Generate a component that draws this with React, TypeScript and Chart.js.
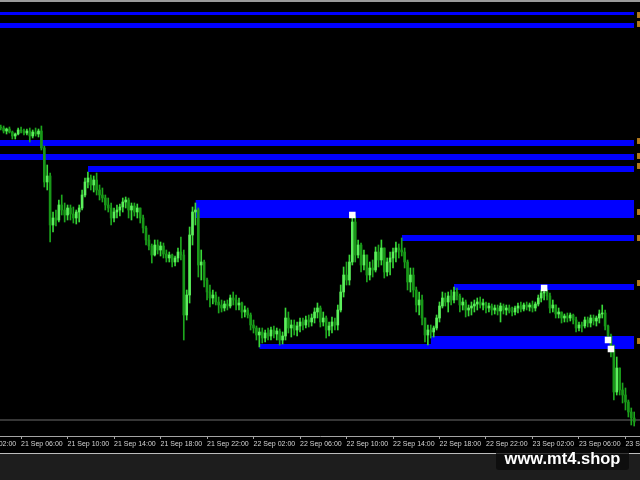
import React, { useEffect, useRef } from "react";
import { Chart, registerables } from "chart.js";

Chart.register(...registerables);

// Time axis: index of 15-minute bar counted from 21 Sep 00:00
const START_BAR = 17; // first candle: 21 Sep 04:15
const X_MIN = 16.75;
const X_MAX = 237;
// Price axis (points)
const Y_MIN = 564;
const Y_MAX = 998;

const OPEN = [
  873, 872, 869, 871, 868, 864, 866, 870, 869, 867,
  869, 864, 868, 866, 869, 852, 818, 824, 775, 782,
  780, 795, 790, 785, 792, 786, 782, 788, 792, 805,
  818, 822, 815, 820, 810, 805, 802, 795, 792, 782,
  788, 790, 793, 798, 800, 790, 794, 788, 792, 782,
  772, 760, 754, 745, 755, 750, 754, 746, 742, 745,
  738, 742, 748, 745, 685, 705, 765, 788, 790, 735,
  738, 720, 708, 702, 705, 698, 695, 692, 696, 694,
  702, 700, 695, 697, 688, 690, 685, 675, 672, 665,
  668, 662, 667, 664, 670, 666, 669, 660, 664, 682,
  672, 675, 670, 674, 678, 675, 680, 678, 682, 688,
  692, 678, 682, 670, 674, 678, 675, 690, 708, 725,
  720, 738, 778, 745, 755, 735, 745, 725, 732, 730,
  748, 740, 752, 728, 738, 742, 748, 752, 750, 748,
  738, 718, 725, 710, 695, 700, 682, 665, 670, 668,
  672, 682, 694, 702, 698, 704, 700, 708, 704, 695,
  698, 690, 692, 694, 696, 698, 695, 697, 692, 694,
  690, 692, 689, 694, 690, 692, 689, 688, 692, 694,
  691, 695, 693, 695, 692, 696, 702, 707, 708, 704,
  692, 695, 686, 688, 682, 684, 682, 685, 680, 672,
  675, 674, 680, 677, 682, 679, 682, 686, 687, 674,
  664, 650, 608, 632, 610, 605, 598, 588, 582,
];
const HIGH = [
  875, 874, 872, 873, 869, 867, 872, 873, 871, 871,
  872, 870, 872, 871, 874, 854, 835, 827, 788, 790,
  800, 805, 797, 795, 795, 793, 790, 795, 810, 822,
  828, 825, 824, 827, 815, 812, 805, 802, 797, 792,
  795, 796, 802, 803, 802, 797, 797, 796, 792, 785,
  774, 765, 756, 760, 760, 758, 757, 750, 748, 746,
  744, 752, 763, 750, 710, 773, 793, 797, 792, 750,
  740, 722, 715, 710, 708, 703, 700, 699, 700, 705,
  708, 705, 702, 698, 694, 692, 687, 680, 674, 672,
  672, 670, 672, 673, 674, 672, 671, 668, 692, 688,
  680, 680, 678, 682, 682, 684, 685, 686, 692, 697,
  694, 688, 684, 678, 683, 682, 695, 715, 733, 738,
  745, 786, 784, 760, 757, 750, 745, 738, 740, 753,
  755, 760, 752, 742, 748, 752, 758, 756, 762, 752,
  740, 732, 732, 713, 708, 705, 682, 675, 675, 674,
  685, 698, 708, 707, 708, 710, 713, 712, 706, 702,
  700, 695, 698, 700, 702, 703, 701, 698, 697, 696,
  695, 695, 697, 696, 695, 695, 693, 694, 697, 698,
  697, 698, 697, 699, 698, 705, 710, 712, 711, 707,
  700, 695, 692, 688, 686, 687, 687, 686, 683, 678,
  678, 683, 683, 685, 685, 684, 690, 695, 690, 675,
  666, 655, 643, 632, 617, 612, 600, 592, 588,
];
const LOW = [
  870, 867, 866, 867, 861, 861, 865, 867, 865, 865,
  858, 862, 864, 863, 850, 813, 810, 758, 768, 774,
  778, 785, 778, 780, 780, 777, 776, 778, 790, 803,
  812, 810, 808, 805, 800, 798, 790, 788, 775, 778,
  782, 784, 788, 792, 782, 780, 784, 782, 777, 767,
  755, 750, 737, 744, 746, 744, 742, 738, 738, 733,
  734, 738, 740, 660, 680, 697, 755, 775, 723, 720,
  713, 700, 693, 696, 695, 687, 688, 689, 690, 692,
  695, 690, 690, 682, 683, 682, 670, 667, 660, 653,
  657, 658, 660, 660, 662, 660, 655, 656, 660, 667,
  663, 665, 664, 668, 670, 672, 673, 674, 677, 682,
  673, 674, 662, 664, 667, 670, 670, 688, 703, 715,
  715, 735, 738, 742, 728, 730, 718, 720, 723, 728,
  733, 735, 722, 724, 725, 732, 738, 742, 744, 732,
  710, 708, 703, 688, 685, 675, 658, 655, 662, 663,
  670, 678, 692, 694, 688, 695, 697, 700, 688, 690,
  683, 684, 685, 688, 690, 692, 690, 687, 688, 685,
  686, 685, 678, 686, 685, 687, 684, 685, 687, 688,
  689, 690, 689, 688, 689, 694, 698, 700, 700, 687,
  688, 682, 682, 677, 678, 678, 679, 676, 668, 669,
  668, 672, 673, 673, 675, 674, 677, 682, 670, 660,
  643, 600, 605, 605, 597, 590, 583, 575, 574,
];
const CLOSE = [
  872, 869, 871, 868, 864, 866, 870, 869, 867, 869,
  864, 868, 866, 869, 852, 818, 824, 775, 782, 780,
  795, 790, 785, 792, 786, 782, 788, 792, 805, 818,
  822, 815, 820, 810, 805, 802, 795, 792, 782, 788,
  790, 793, 798, 800, 790, 794, 788, 792, 782, 772,
  760, 754, 745, 755, 750, 754, 746, 742, 745, 738,
  742, 748, 745, 685, 705, 765, 788, 790, 735, 738,
  720, 708, 702, 705, 698, 695, 692, 696, 694, 702,
  700, 695, 697, 688, 690, 685, 675, 672, 665, 668,
  662, 667, 664, 670, 666, 669, 660, 664, 682, 672,
  675, 670, 674, 678, 675, 680, 678, 682, 688, 692,
  678, 682, 670, 674, 678, 675, 690, 708, 725, 720,
  738, 778, 745, 755, 735, 745, 725, 732, 730, 748,
  740, 752, 728, 738, 742, 748, 752, 750, 748, 738,
  718, 725, 710, 695, 700, 682, 665, 670, 668, 672,
  682, 694, 702, 698, 704, 700, 708, 704, 695, 698,
  690, 692, 694, 696, 698, 695, 697, 692, 694, 690,
  692, 689, 694, 690, 692, 689, 688, 692, 694, 691,
  695, 693, 695, 692, 696, 702, 707, 708, 704, 692,
  695, 686, 688, 682, 684, 682, 685, 680, 672, 675,
  674, 680, 677, 682, 679, 682, 686, 687, 674, 664,
  650, 608, 632, 610, 605, 598, 588, 582, 578,
];

const TICK_BARS = [8, 24, 40, 56, 72, 88, 104, 120, 136, 152, 168, 184, 200, 216, 232];
const TICK_LABELS = [
  "21 Sep 02:00", "21 Sep 06:00", "21 Sep 10:00", "21 Sep 14:00", "21 Sep 18:00",
  "21 Sep 22:00", "22 Sep 02:00", "22 Sep 06:00", "22 Sep 10:00", "22 Sep 14:00",
  "22 Sep 18:00", "22 Sep 22:00", "23 Sep 02:00", "23 Sep 06:00", "23 Sep 10:00",
];

// Support / resistance rectangles
const ZONE_START = [0, 0, 0, 0, 47, 84, 155, 173, 165, 106];
const ZONE_END = 235;
const ZONE_TOP = [988, 977, 860, 846, 834, 800, 765, 716, 664, 656];
const ZONE_BOTTOM = [985, 972, 854, 840, 828, 782, 759, 710, 651, 651];

// White markers
const MARK_BARS = [138, 204, 226, 227];
const MARK_PRICES = [785, 712, 660, 651];

// Horizontal level line and price-scale tags
const LEVEL_PRICE = 580;
const TAG_PRICES = [985, 976, 859, 844, 834, 788, 762, 717, 659];

const BULL = "#5cf05c";
const BEAR = "#189818";
const BULL_WICK = "#38d838";
const BEAR_WICK = "#1da61d";
const ZONE_BLUE = "#0000ff";

export default function App() {
  const ref = useRef<HTMLCanvasElement | null>(null);

  useEffect(() => {
    const canvas = ref.current;
    if (!canvas) return;
    const bars = OPEN.map((_, i) => START_BAR + i);
    const up = OPEN.map((o, i) => CLOSE[i] >= o);

    const zoneSets: any[] = [];
    ZONE_TOP.forEach((top, z) => {
      zoneSets.push({
        type: "line",
        label: "zone" + z + "top",
        data: [
          { x: ZONE_START[z], y: top },
          { x: ZONE_END, y: top },
        ],
        borderColor: "rgba(0,0,0,0)",
        borderWidth: 1,
        pointRadius: 0,
        fill: false,
        order: 3,
      });
      zoneSets.push({
        type: "line",
        label: "zone" + z + "bottom",
        data: [
          { x: ZONE_START[z], y: ZONE_BOTTOM[z] },
          { x: ZONE_END, y: ZONE_BOTTOM[z] },
        ],
        borderColor: "rgba(0,0,0,0)",
        borderWidth: 1,
        pointRadius: 0,
        fill: "-1",
        backgroundColor: ZONE_BLUE,
        order: 3,
      });
    });

    const chart = new Chart(canvas, {
      type: "bar",
      data: {
        datasets: [
          {
            type: "line",
            label: "marks",
            data: MARK_BARS.map((x, i) => ({ x, y: MARK_PRICES[i] })),
            showLine: false,
            pointStyle: "rect",
            pointRadius: 4.6,
            pointBackgroundColor: "#ffffff",
            pointBorderWidth: 0,
            order: 0,
          },
          {
            type: "line",
            label: "tags",
            data: TAG_PRICES.map((y) => ({ x: X_MAX, y })),
            showLine: false,
            pointStyle: "rect",
            pointRadius: 4.2,
            pointBackgroundColor: "#b47a1c",
            pointBorderWidth: 0,
            clip: false,
            order: 0,
          },
          {
            type: "bar",
            label: "body",
            data: bars.map((x, i) => ({ x, y: [OPEN[i], CLOSE[i]] })),
            barThickness: 2,
            minBarLength: 1,
            grouped: false,
            borderWidth: 0,
            backgroundColor: (c: any) => (up[c.dataIndex] ? BULL : BEAR),
            order: 1,
          },
          {
            type: "bar",
            label: "wick",
            data: bars.map((x, i) => ({ x, y: [LOW[i], HIGH[i]] })),
            barThickness: 1,
            grouped: false,
            borderWidth: 0,
            backgroundColor: (c: any) => (up[c.dataIndex] ? BULL_WICK : BEAR_WICK),
            order: 2,
          },
          ...zoneSets,
          {
            type: "line",
            label: "level",
            data: [
              { x: X_MIN, y: LEVEL_PRICE },
              { x: X_MAX, y: LEVEL_PRICE },
            ],
            borderColor: "#6c6c6c",
            borderWidth: 1,
            pointRadius: 0,
            fill: false,
            order: 4,
          },
        ] as any,
      },
      options: {
        animation: false,
        responsive: false,
        events: [],
        layout: { padding: 0, autoPadding: false },
        plugins: {
          legend: { display: false },
          tooltip: { enabled: false },
        },
        scales: {
          x: {
            type: "linear",
            min: X_MIN,
            max: X_MAX,
            offset: false,
            afterBuildTicks: (s: any) => {
              s.ticks = TICK_BARS.map((v) => ({ value: v }));
            },
            afterFit: (s: any) => {
              s.height = 17;
              s.paddingLeft = 0;
              s.paddingRight = 0;
              s.paddingTop = 0;
              s.paddingBottom = 0;
            },
            ticks: {
              autoSkip: false,
              maxRotation: 0,
              minRotation: 0,
              align: "start",
              padding: 1,
              color: "#d4d4d4",
              font: { family: "Liberation Sans", size: 7 },
              callback: (v: any) => {
                const k = TICK_BARS.indexOf(Number(v));
                return k >= 0 ? TICK_LABELS[k] : "";
              },
            },
            grid: {
              drawOnChartArea: false,
              drawTicks: true,
              tickLength: 3,
              color: "#a4a4a4",
              offset: false,
            },
            border: { display: true, color: "#a4a4a4", width: 1 },
          },
          y: {
            type: "linear",
            display: false,
            min: Y_MIN,
            max: Y_MAX,
          },
        },
      } as any,
    });
    return () => chart.destroy();
  }, []);

  return (
    <div
      style={{
        position: "fixed",
        left: 0,
        top: 0,
        width: 640,
        height: 480,
        background: "#1d1d1d",
        overflow: "hidden",
      }}
    >
      <div style={{ position: "absolute", left: 0, top: 0, width: 640, height: 2, background: "#9a9a9a" }} />
      <div style={{ position: "absolute", left: 0, top: 2, width: 640, height: 451, background: "#000" }}>
        <canvas ref={ref} width={640} height={451} style={{ display: "block", width: 640, height: 451 }} />
      </div>
      <div style={{ position: "absolute", left: 0, top: 453, width: 640, height: 1, background: "#bcbcbc" }} />
      <div
        style={{
          position: "absolute",
          left: 496,
          top: 447,
          width: 133,
          height: 23,
          lineHeight: "23px",
          background: "rgba(10,10,10,0.75)",
          borderRadius: 3,
          color: "#ffffff",
          fontFamily: "'Liberation Sans', Arial, sans-serif",
          fontWeight: "bold",
          fontSize: 16.5,
          textAlign: "center",
        }}
      >
        www.mt4.shop
      </div>
    </div>
  );
}
